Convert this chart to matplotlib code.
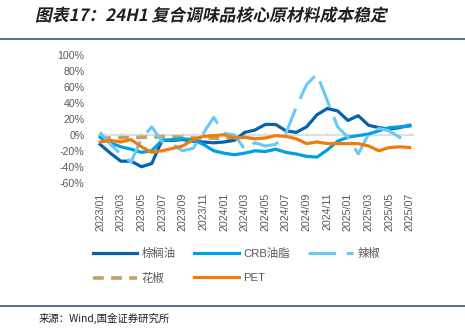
import matplotlib
matplotlib.use("Agg")
import numpy as np
from matplotlib import pyplot as plt
from matplotlib.lines import Line2D
from matplotlib.textpath import TextPath
from matplotlib.patches import PathPatch
from matplotlib.font_manager import FontProperties
from matplotlib.transforms import Affine2D

plt.rcParams['font.family'] = ['Liberation Sans', 'Noto Sans CJK SC', 'DejaVu Sans']

months = [f"{y}/{m:02d}" for y in (2023, 2024, 2025) for m in range(1, 13)][:31]

palm_oil = [-12, -23, -33, -33, -40, -36, -7, -7, -6, -8, -9, -10, -9, -7, 3, 6,
            13, 13, 5, 3, 10, 25, 33, 30, 18, 24, 12, 9, 7, 9, 12]
crb_oil = [-3, -10, -15, -18, -22, -20, -7, -6, -5, -6, -12, -20, -23, -25, -23, -20,
           -21, -18, -22, -24, -27, -28, -19, -8, -3, -1, 1, 5, 9, 10, 11]
chili = [3, -12, -24, -34, -5, 10, -8, -12, -20, -17, 2, 22, 2, 0, -18, -10,
         -14, -12, 2, 35, 63, 76, 43, 10, -3, -24, 1, 8, 5, -3, -11]
pepper = [-4, -4, -3.5, -3.5, -3, -3, -2.5, -2.5, -3, -4, -4, -4, -5, -5]
pet = [-9, -7, -9, -6, -15, -22, -20, -17, -14, -6, -2, -1, 0, -4, -3, -5,
       -4, -1, -2, -5, -11, -9, -11, -11, -11, -11, -14, -20, -16, -15, -16]

y_ticks = [100, 80, 60, 40, 20, 0, -20, -40, -60]

fig = plt.figure(figsize=(4.65, 3.32), dpi=100)
ax = fig.add_axes([0.2086, 0.4497, 0.6817, 0.3846])

x = np.arange(len(months))
ax.axhline(0, color='#d9d9d9', lw=1.2, zorder=1)
for t in x[::2]:
    ax.plot([t, t], [0, 2.2], color='#d9d9d9', lw=1, zorder=1)

h_palm, = ax.plot(x, palm_oil, color='#0563ad', lw=2.3, label='棕榈油', zorder=3)
h_crb, = ax.plot(x, crb_oil, color='#00a0e4', lw=2.3, label='CRB油脂', zorder=3)
h_chili, = ax.plot(x, chili, color='#6ac8f5', lw=2.2, dashes=(9, 3.5), label='辣椒', zorder=3)
h_pepper, = ax.plot(x[:len(pepper)], pepper, color='#c4a063', lw=2.6, dashes=(3, 2),
                    label='花椒', zorder=2)
h_pet, = ax.plot(x, pet, color='#ee7d0e', lw=2.3, label='PET', zorder=4)

ax.set_xlim(-0.3, 30.4)
ax.set_ylim(-60, 100)
ax.set_yticks(y_ticks)
ax.set_yticklabels([f"{v}%" for v in y_ticks])
ax.set_xticks(x[::2])
ax.set_xticklabels(months[::2], rotation=90)
ax.tick_params(axis='both', length=0, labelsize=7.7, colors='#595959')
ax.tick_params(axis='x', pad=7)
ax.tick_params(axis='y', pad=9)
for s in ax.spines.values():
    s.set_visible(False)

# legend fills column by column, so order handles to read row by row
handles = [h_palm, h_pepper, h_crb, h_pet, h_chili]
ax.legend(handles=handles, labels=[h.get_label() for h in handles],
          loc='upper left', bbox_to_anchor=(-0.045, -0.43), ncol=3, frameon=False,
          fontsize=8.2, handlelength=3.9, columnspacing=1.6, handletextpad=0.4,
          labelspacing=1.25, labelcolor='#595959')

# slanted bold title, drawn as a sheared text path in pixel space
title_font = FontProperties(family=['Noto Sans CJK SC', 'DejaVu Sans'], weight='bold')
title_path = TextPath((0, 0), '图表17：24H1 复合调味品核心原材料成本稳定', size=16.8,
                      prop=title_font)
title_tf = Affine2D().skew_deg(12, 0).translate(35, 332 - 21)
fig.add_artist(PathPatch(title_tf.transform_path(title_path), facecolor='#1f1f1f',
                         edgecolor='none', transform=None))

fig.add_artist(Line2D([0, 1], [0.883, 0.883], color='#3b5878', lw=1.2))
fig.add_artist(Line2D([0, 1], [0.078, 0.078], color='#3b5878', lw=1.2))
fig.text(0.082, 0.042, '来源：Wind,国金证券研究所', fontsize=7.5, color='#1f1f1f',
         va='center', family=['Noto Sans CJK SC', 'DejaVu Sans'])

fig.savefig('out.png', dpi=100)
